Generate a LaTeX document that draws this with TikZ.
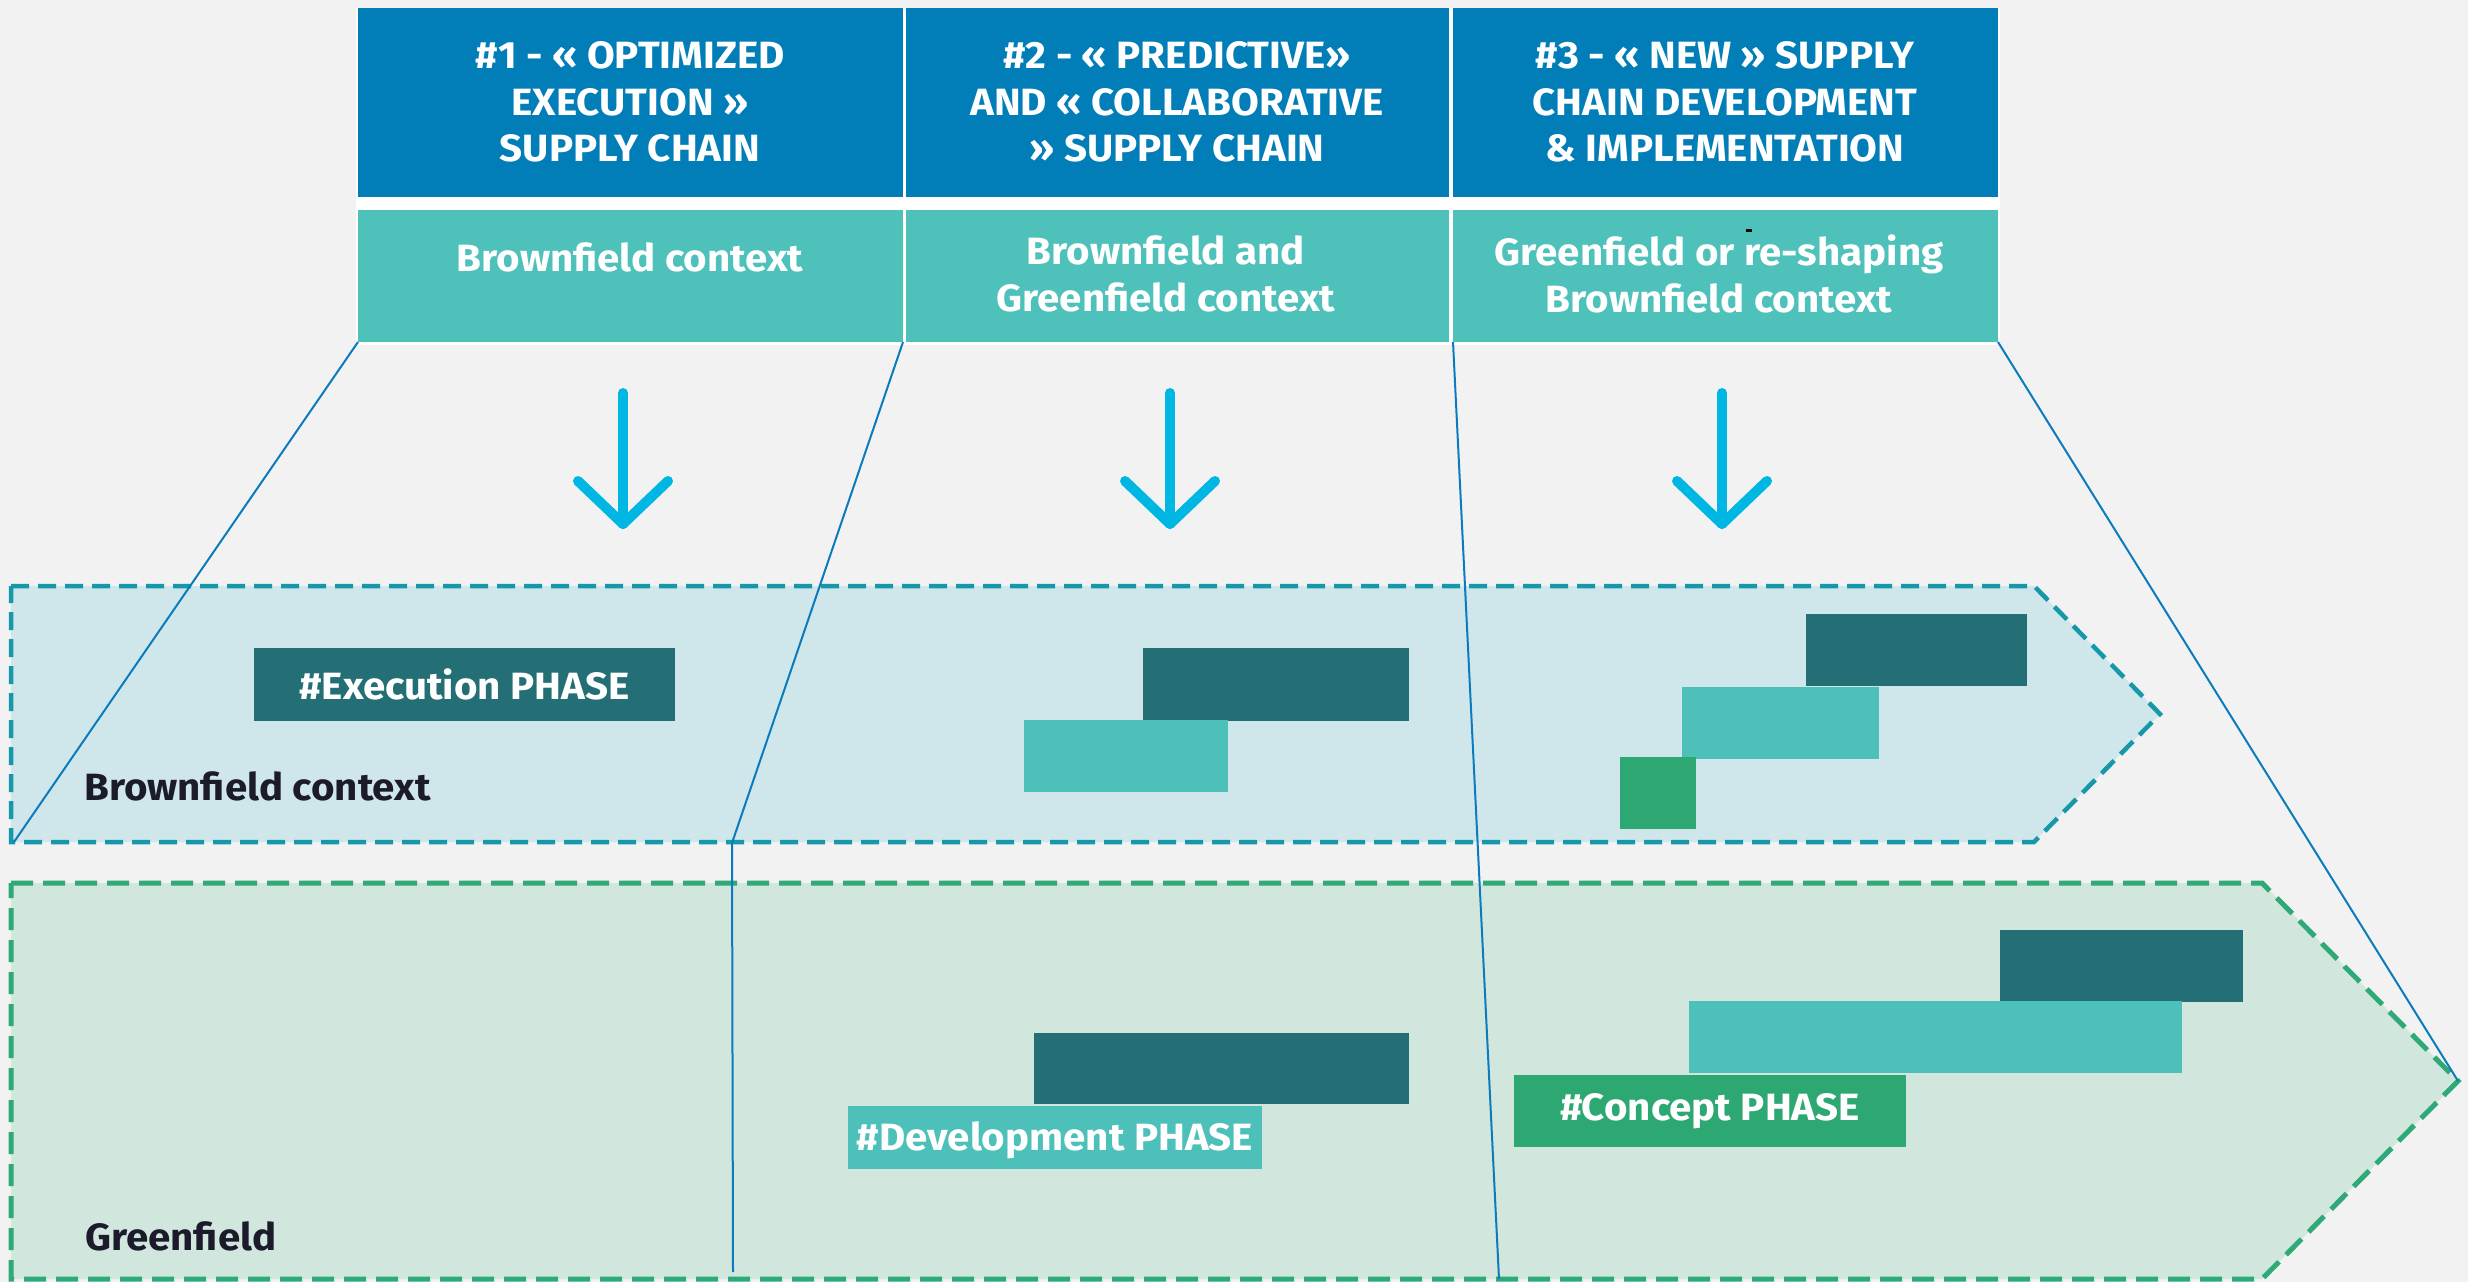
\documentclass[tikz,border=0pt]{standalone}
\usepackage{fontspec}
\setmainfont{Fira Sans}[FakeStretch=1.06]
\usetikzlibrary{calc}
\definecolor{bgc}{HTML}{F2F2F2}
\definecolor{hdrblue}{HTML}{017DB8}
\definecolor{hdrteal}{HTML}{4EC1BB}
\definecolor{bandbluefill}{HTML}{CFE7EA}
\definecolor{bandblueline}{HTML}{1798AA}
\definecolor{bandgreenfill}{HTML}{D1E6DD}
\definecolor{bandgreenline}{HTML}{2FA975}
\definecolor{darkteal}{HTML}{246E76}
\definecolor{lightteal}{HTML}{4DC0BA}
\definecolor{phasegreen}{HTML}{2EA873}
\definecolor{linkblue}{HTML}{0B7BBE}
\definecolor{arrowcyan}{HTML}{00B7E4}
\definecolor{labeldark}{HTML}{1B1B2B}
\tikzset{
  boxbase/.style={inner sep=0pt, outer sep=0pt, anchor=north west},
  hdrbox/.style={boxbase, fill=hdrblue, minimum height=189pt},
  subbox/.style={boxbase, fill=hdrteal, minimum height=132pt},
  hdrtext/.style={text=white, align=center, inner sep=0pt, font=\fontsize{38}{46.5}\selectfont\bfseries},
  bar/.style={boxbase},
  bartext/.style={text=white, inner sep=0pt, font=\fontsize{38}{44}\selectfont\bfseries},
  lbl/.style={text=labeldark, inner sep=0pt, anchor=base west, font=\fontsize{38}{44}\selectfont\bfseries},
  link/.style={draw=linkblue, line width=2pt},
  dn/.style={draw=arrowcyan, line width=10pt, line cap=round, line join=round},
  bandblue/.style={fill=bandbluefill, draw=bandblueline, line width=4.5pt, dash pattern=on 18pt off 9pt},
  bandgreen/.style={fill=bandgreenfill, draw=bandgreenline, line width=5pt, dash pattern=on 22pt off 10pt}
}
\begin{document}
\begin{tikzpicture}[x=1pt, y=-1pt]
\fill[bgc] (0,0) rectangle (2468,1282);
\useasboundingbox (0,0) rectangle (2468,1282);

% bands
\draw[bandblue] (11,586) -- (2034,586) -- (2160,714) -- (2034,842) -- (11,842) -- cycle;
\draw[bandgreen] (11,883) -- (2262,883) -- (2458,1081) -- (2262,1279) -- (11,1279) -- cycle;

% header
\fill[white] (356,8) rectangle (2000,345);
\node[hdrbox, minimum width=545pt] (h1) at (358,8) {};
\node[hdrbox, minimum width=543pt] (h2) at (906,8) {};
\node[hdrbox, minimum width=545pt] (h3) at (1453,8) {};
\node[subbox, minimum width=545pt] (s1) at (358,210) {};
\node[subbox, minimum width=543pt] (s2) at (906,210) {};
\node[subbox, minimum width=545pt] (s3) at (1453,210) {};

\node[hdrtext] (h1t) at (630,102) {\#1 - « OPTIMIZED\\EXECUTION »\\SUPPLY CHAIN};
\node[hdrtext] (h2t) at (1177,102) {\#2 - « PREDICTIVE»\\AND « COLLABORATIVE\\» SUPPLY CHAIN};
\node[hdrtext] (h3t) at (1725,102) {\#3 - « NEW » SUPPLY\\CHAIN DEVELOPMENT\\\& IMPLEMENTATION};
\node[hdrtext] (s1t) at (630,257) {Brownfield context};
\node[hdrtext] (s2t) at (1166,274) {Brownfield and\\Greenfield context};
\node[hdrtext] (s3t) at (1719,274) {Greenfield or re-shaping\\Brownfield context};
\fill[black] (1746,229) rectangle (1752,232);

% arrows
\foreach \n/\x in {1/623,2/1170,3/1722}{
  \coordinate (a\n t) at (\x,393);
  \coordinate (a\n b) at (\x,524);
  \draw[dn] (a\n t) -- (a\n b);
  \draw[dn] ($(a\n b)+(-45,-43)$) -- (a\n b) -- ($(a\n b)+(45,-43)$);
}

% connectors
\coordinate (bbl) at (14,842);
\coordinate (bkink) at (732,843);
\coordinate (gbot) at (733,1272);
\coordinate (gbot3) at (1499,1279);
\coordinate (gtip) at (2458,1081);
\draw[link] (s1.south west) -- (bbl);
\draw[link] (s1.south east) -- (bkink) -- (gbot);
\draw[link] (s3.south west) -- (gbot3);
\draw[link] (s3.south east) -- (gtip);

% brownfield bars
\node[bar, fill=darkteal, minimum width=421pt, minimum height=73pt] (e1) at (254,648) {};
\node[bartext] (e1t) at (e1.center) {\#Execution PHASE};
\node[bar, fill=darkteal, minimum width=266pt, minimum height=73pt] (d2) at (1143,648) {};
\node[bar, fill=lightteal, minimum width=204pt, minimum height=72pt] (l2) at (1024,720) {};
\node[bar, fill=darkteal, minimum width=221pt, minimum height=72pt] (d3) at (1806,614) {};
\node[bar, fill=lightteal, minimum width=197pt, minimum height=72pt] (l3) at (1682,687) {};
\node[bar, fill=phasegreen, minimum width=76pt, minimum height=72pt] (g3) at (1620,757) {};

% greenfield bars
\node[bar, fill=darkteal, minimum width=375pt, minimum height=71pt] (gd) at (1034,1033) {};
\node[bar, fill=lightteal, minimum width=414pt, minimum height=63pt] (gdev) at (848,1106) {};
\node[bartext] (gdevt) at ($(gdev.center)+(0,3)$) {\#Development PHASE};
\node[bar, fill=darkteal, minimum width=243pt, minimum height=72pt] (gdk) at (2000,930) {};
\node[bar, fill=lightteal, minimum width=493pt, minimum height=72pt] (gl) at (1689,1001) {};
\node[bar, fill=phasegreen, minimum width=392pt, minimum height=72pt] (gc) at (1514,1075) {};
\node[bartext] (gct) at (gc.center) {\#Concept PHASE};

% labels
\node[lbl] (lb1) at (84,800) {Brownfield context};
\node[lbl] (lb2) at (85,1250) {Greenfield};
\end{tikzpicture}
\end{document}
